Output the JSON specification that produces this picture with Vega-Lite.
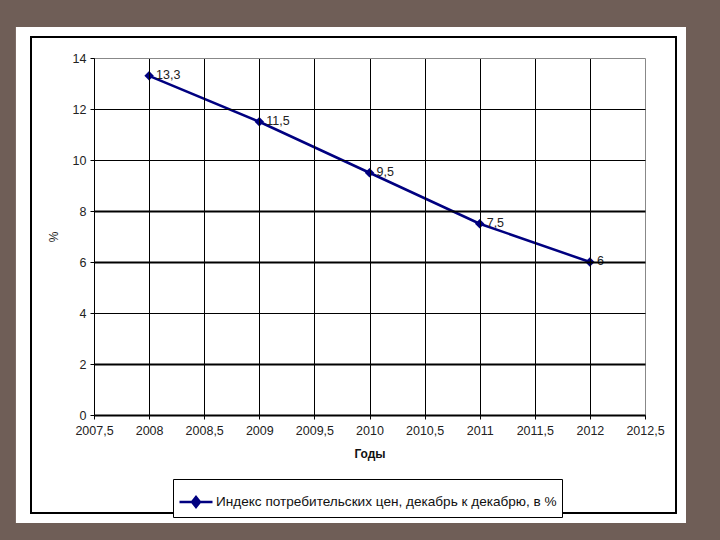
{
  "$schema": "https://vega.github.io/schema/vega-lite/v6.json",
  "width": 551,
  "height": 357,
  "autosize": {"type": "none"},
  "padding": {"left": 94, "top": 58, "right": 75, "bottom": 125},
  "background": "#6f5e57",
  "config": {
    "locale": {"number": {"decimal": ",", "thousands": " ", "grouping": [3], "currency": ["", " ₽"]}},
    "view": {"stroke": null},
    "font": "Liberation Sans"
  },
  "data": {
    "values": [
      {"year": 2008, "value": 13.3},
      {"year": 2009, "value": 11.5},
      {"year": 2010, "value": 9.5},
      {"year": 2011, "value": 7.5},
      {"year": 2012, "value": 6}
    ]
  },
  "encoding": {
    "x": {
      "field": "year",
      "type": "quantitative",
      "scale": {"domain": [2007.5, 2012.5], "nice": false, "zero": false},
      "axis": {
        "values": [2007.5, 2008, 2008.5, 2009, 2009.5, 2010, 2010.5, 2011, 2011.5, 2012, 2012.5],
        "format": ".1~f",
        "title": "Годы",
        "titleFont": "Liberation Sans",
        "titleFontSize": 12,
        "titleFontWeight": "bold",
        "titleColor": "#111",
        "titlePadding": 12,
        "labelFont": "Liberation Sans",
        "labelFontSize": 12.5,
        "labelColor": "#222",
        "labelPadding": 5,
        "labelFlush": false,
        "labelOverlap": false,
        "domainColor": "#000",
        "domainWidth": 2,
        "tickColor": "#000",
        "tickSize": 4,
        "grid": true,
        "gridColor": {"condition": {"test": "datum.value == 2012.5", "value": "#888888"}, "value": "#000000"},
        "gridWidth": 1,
        "gridOpacity": 1,
        "zindex": 1
      }
    },
    "y": {
      "field": "value",
      "type": "quantitative",
      "scale": {"domain": [0, 14], "nice": false},
      "axis": {
        "values": [0, 2, 4, 6, 8, 10, 12, 14],
        "title": "%",
        "titleFont": "Liberation Sans",
        "titleFontSize": 12,
        "titleFontWeight": "normal",
        "titleColor": "#222",
        "titlePadding": 12,
        "labelFont": "Liberation Sans",
        "labelFontSize": 12.5,
        "labelColor": "#222",
        "labelPadding": 4,
        "domainColor": "#000",
        "domainWidth": 1,
        "tickColor": "#000",
        "tickSize": 4,
        "grid": true,
        "gridColor": {"condition": {"test": "datum.value == 14", "value": "#888888"}, "value": "#000000"},
        "gridWidth": {"condition": {"test": "datum.value == 8 || datum.value == 6 || datum.value == 2", "value": 2}, "value": 1.2},
        "gridOpacity": 1,
        "zindex": 1
      }
    }
  },
  "layer": [
    {
      "mark": {"type": "rect", "fill": "#ffffff", "clip": false},
      "encoding": {
        "x": {"datum": 2006.792, "type": "quantitative"},
        "x2": {"datum": 2012.872},
        "y": {"datum": 15.216, "type": "quantitative"},
        "y2": {"datum": -4.235}
      }
    },
    {
      "mark": {"type": "rect", "fill": null, "stroke": "#000000", "strokeWidth": 1.5, "clip": false},
      "encoding": {
        "x": {"datum": 2006.928, "type": "quantitative"},
        "x2": {"datum": 2012.781},
        "y": {"datum": 14.824, "type": "quantitative"},
        "y2": {"datum": -3.843}
      }
    },
    {
      "mark": {"type": "line", "strokeWidth": 2.5, "zindex": 2},
      "encoding": {
        "color": {
          "datum": "Индекс потребительских цен, декабрь к декабрю, в %",
          "type": "nominal",
          "scale": {"range": ["#000080"]},
          "legend": {
            "orient": "none",
            "legendX": 79,
            "legendY": 421,
            "title": null,
            "strokeColor": "#000000",
            "fillColor": "#ffffff",
            "padding": 5,
            "labelFont": "Liberation Sans",
            "labelFontSize": 13.6,
            "labelColor": "#111",
            "labelLimit": 600,
            "labelOffset": 2,
            "symbolType": "M-1,0L1,0M0,-0.3L0.24,0L0,0.3L-0.24,0Z",
            "symbolSize": 1089,
            "symbolStrokeWidth": 2.5,
            "symbolStrokeColor": "#000080",
            "symbolFillColor": "#000080",
            "symbolOpacity": 1
          }
        }
      }
    },
    {
      "mark": {"type": "point", "shape": "diamond", "filled": true, "size": 90, "color": "#000080", "opacity": 1, "zindex": 2}
    },
    {
      "mark": {"type": "text", "align": "left", "baseline": "middle", "dx": 7, "dy": -1, "font": "Liberation Sans", "fontSize": 12.5, "color": "#222", "zindex": 2},
      "encoding": {
        "text": {"field": "value", "type": "quantitative", "format": ".1~f"}
      }
    }
  ]
}
